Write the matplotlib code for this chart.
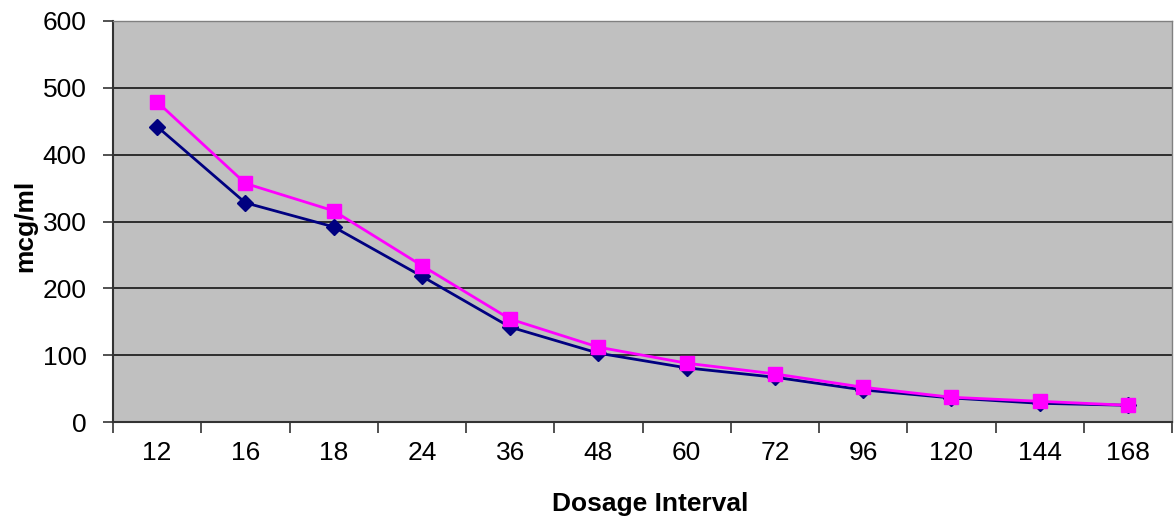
import matplotlib.pyplot as plt
import numpy as np

plt.rcParams['font.family'] = ['Liberation Sans', 'DejaVu Sans']

intervals = ["12", "16", "18", "24", "36", "48", "60", "72", "96", "120", "144", "168"]
series_blue = [442, 328, 292, 218, 142, 103, 81, 67, 48, 36, 28, 25]
series_pink = [479, 357, 316, 234, 154, 112, 88, 72, 52, 37, 31, 25]

fig = plt.figure(figsize=(11.74, 5.2), dpi=100)
ax = fig.add_axes([113 / 1174, 98 / 520, 1059 / 1174, 401 / 520])
ax.set_facecolor("#C0C0C0")

x = np.arange(len(intervals))
ax.plot(x, series_blue, color="#000080", lw=2, marker="D", ms=8, zorder=3)
ax.plot(x, series_pink, color="#FF00FF", lw=2, marker="s", ms=10, zorder=4)

ax.set_xlim(-0.5, len(intervals) - 0.5)
ax.set_ylim(0, 600)
ax.set_yticks(range(0, 601, 100))
ax.yaxis.grid(True, color="#222222", lw=1.3)
ax.set_axisbelow(True)

# category labels centred, tick marks between categories
ax.set_xticks(x)
ax.set_xticklabels(intervals, fontsize=19)
ax.set_xticks(np.arange(-0.5, len(intervals)), minor=True)
ax.tick_params(axis="x", which="major", length=0, pad=14)
ax.tick_params(axis="x", which="minor", length=8, width=1.2, color="#333333")
ax.tick_params(axis="y", labelsize=19, length=7, width=1.2, color="#333333", pad=12)

for side in ["left", "bottom"]:
    ax.spines[side].set_color("#333333")
    ax.spines[side].set_linewidth(1.5)
for side in ["top", "right"]:
    ax.spines[side].set_color("#808080")
    ax.spines[side].set_linewidth(1.0)

ax.set_ylabel("mcg/ml", fontsize=19, fontweight="bold")
ax.yaxis.set_label_coords(-0.072, 0.49)
ax.set_xlabel("Dosage Interval", fontsize=19, fontweight="bold")
ax.xaxis.set_label_coords(0.507, -0.175)

fig.savefig("out.png", dpi=100)
